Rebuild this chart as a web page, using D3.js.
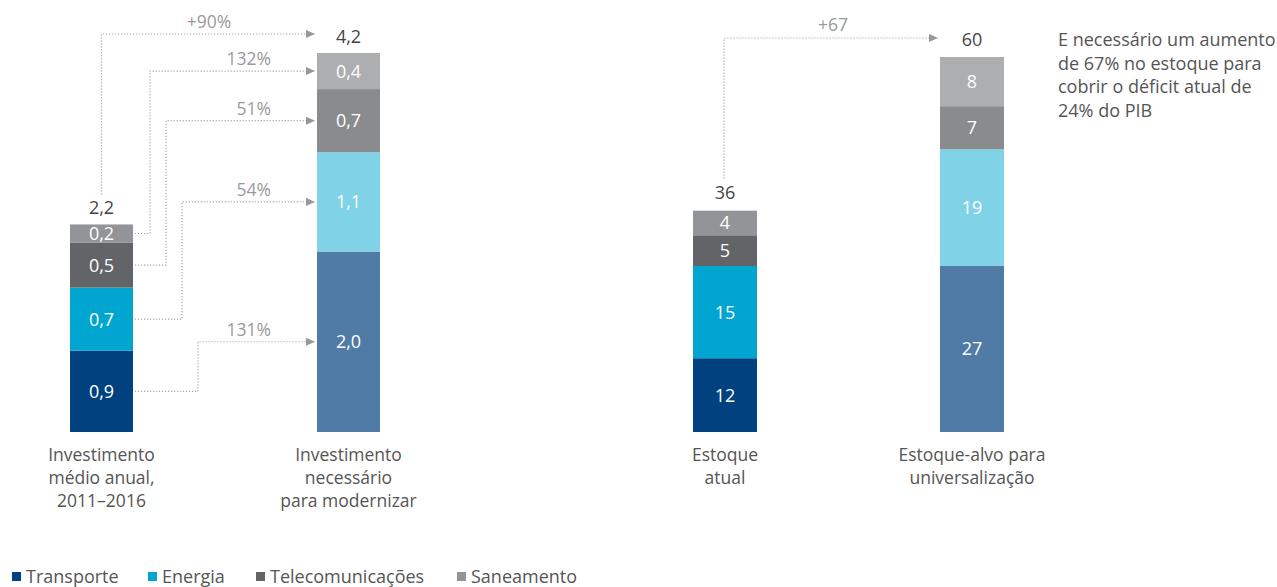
<!DOCTYPE html>
<html>
<head>
<meta charset="utf-8">
<script src="https://cdn.jsdelivr.net/npm/d3@7"></script>
<style>
  html, body { margin: 0; padding: 0; background: #fff; }
  svg { display: block; font-family: "Open Sans", "DejaVu Sans", sans-serif; }
</style>
</head>
<body>
<svg id="chart" width="1277" height="587"></svg>
<script>
// Infrastructure segments (stack order, bottom to top)
const segments = ["Transporte", "Energia", "Telecomunicações", "Saneamento"];

// Investment (% of GDP): average 2011–2016 vs. required to modernize
const investCategories = [
  ["Investimento", "médio anual,", "2011–2016"],
  ["Investimento", "necessário", "para modernizar"]
];
const investAtual = [0.9, 0.7, 0.5, 0.2];
const investNecessario = [2.0, 1.1, 0.7, 0.4];
const investTotals = ["2,2", "4,2"];
const investGrowth = ["131%", "54%", "51%", "132%"];
const investGrowthTotal = "+90%";

// Infrastructure stock (% of GDP): current vs. universalization target
const stockCategories = [
  ["Estoque", "atual"],
  ["Estoque-alvo para", "universalização"]
];
const stockAtual = [12, 15, 5, 4];
const stockAlvo = [27, 19, 7, 8];
const stockTotals = ["36", "60"];
const stockGrowthTotal = "+67";

const noteLines = [
  "E necessário um aumento",
  "de 67% no estoque para",
  "cobrir o déficit atual de",
  "24% do PIB"
];

// Colours: darker shades for current, lighter for target
const darkColors = ["#00427f", "#00a6cf", "#636467", "#939498"];
const lightColors = ["#4f7ba6", "#80d3e7", "#8a8b8d", "#adaeb0"];
const legendColors = ["#00427f", "#00a6cf", "#636467", "#939498"];

const fmt = v => String(v).replace(".", ",");
const fmtDec = v => v.toFixed(1).replace(".", ",");

const svg = d3.select("#chart");

// Arrow marker
svg.append("defs").append("marker")
  .attr("id", "arrow")
  .attr("viewBox", "0 0 10 10")
  .attr("refX", 10).attr("refY", 5)
  .attr("markerWidth", 11).attr("markerHeight", 9)
  .attr("markerUnits", "userSpaceOnUse")
  .attr("orient", "auto")
  .append("path")
  .attr("d", "M0,0.5 L10,5 L0,9.5 Z")
  .attr("fill", "#97989b");

const baseline = 432;

function stackOf(values) {
  let acc = 0;
  return values.map((v, i) => {
    const s = { i, y0: acc, y1: acc + v, v };
    acc += v;
    return s;
  });
}

function drawBar(g, y, center, width, values, colors, format) {
  const st = stackOf(values);
  const bar = g.append("g");
  bar.selectAll("rect")
    .data(st).join("rect")
    .attr("x", center - width / 2)
    .attr("width", width)
    .attr("y", d => y(d.y1))
    .attr("height", d => y(d.y0) - y(d.y1))
    .attr("fill", d => colors[d.i]);
  bar.selectAll("text")
    .data(st).join("text")
    .attr("x", center)
    .attr("y", d => (y(d.y0) + y(d.y1)) / 2)
    .attr("dy", "0.36em")
    .attr("text-anchor", "middle")
    .attr("fill", "#fff")
    .attr("font-size", 18)
    .text(d => format(d.v));
  return st;
}

function drawCategory(g, center, lines) {
  const t = g.append("text")
    .attr("text-anchor", "middle")
    .attr("fill", "#555")
    .attr("font-size", 17.5);
  lines.forEach((ln, k) => {
    t.append("tspan").attr("x", center).attr("y", 461 + k * 23).text(ln);
  });
}

function total(g, cx, cy, label) {
  g.append("text")
    .attr("x", cx).attr("y", cy)
    .attr("text-anchor", "middle")
    .attr("fill", "#444")
    .attr("font-size", 18)
    .text(label);
}

function dotted(g, pts) {
  g.append("path")
    .attr("d", d3.line()(pts))
    .attr("fill", "none")
    .attr("stroke", "#a6a7aa")
    .attr("stroke-width", 1.2)
    .attr("stroke-dasharray", "1.2,1.8")
    .attr("marker-end", "url(#arrow)");
}

function growthLabel(g, x, y, text, anchor) {
  g.append("text")
    .attr("x", x).attr("y", y)
    .attr("text-anchor", anchor)
    .attr("fill", "#999a9d")
    .attr("font-size", 17.5)
    .text(text);
}

// ---------- Investment panel ----------
const gInv = svg.append("g");
const xInv = d3.scalePoint().domain([0, 1]).range([101.5, 348.5]);
const yInv = d3.scaleLinear().domain([0, 4.2]).range([baseline, 53]);
const barWInv = 63;

const stA = drawBar(gInv, yInv, xInv(0), barWInv, investAtual, darkColors, fmtDec);
const stB = drawBar(gInv, yInv, xInv(1), barWInv, investNecessario, lightColors, fmtDec);

const topA = yInv(d3.sum(investAtual));
const topB = yInv(d3.sum(investNecessario));
total(gInv, xInv(0), topA - 10, investTotals[0]);
total(gInv, xInv(1), topB - 10, investTotals[1]);

const rightA = xInv(0) + barWInv / 2 + 2;
const leftB = xInv(1) - barWInv / 2 - 2;

// Per-segment growth connectors
stA.forEach((s, i) => {
  const ya = (yInv(s.y0) + yInv(s.y1)) / 2;
  const sb = stB[i];
  const yb = (yInv(sb.y0) + yInv(sb.y1)) / 2;
  const elbow = 150 + (3 - i) * 16;
  dotted(gInv, [[rightA, ya], [elbow, ya], [elbow, yb], [leftB, yb]]);
  growthLabel(gInv, 271, yb - 6, investGrowth[i], "end");
});

// Total growth connector
const yTotInv = topB - 19;
dotted(gInv, [[xInv(0), topA - 30], [xInv(0), yTotInv], [leftB, yTotInv]]);
growthLabel(gInv, 209, yTotInv - 6, investGrowthTotal, "middle");

investCategories.forEach((c, i) => drawCategory(gInv, xInv(i), c));

// ---------- Stock panel ----------
const gStock = svg.append("g");
const xStock = d3.scalePoint().domain([0, 1]).range([725, 972]);
const yStock = d3.scaleLinear().domain([0, 61]).range([baseline, 57]);
const barWStock = 64;

drawBar(gStock, yStock, xStock(0), barWStock, stockAtual, darkColors, fmt);
drawBar(gStock, yStock, xStock(1), barWStock, stockAlvo, lightColors, fmt);

const topC = yStock(d3.sum(stockAtual));
const topD = yStock(d3.sum(stockAlvo));
total(gStock, xStock(0), topC - 12, stockTotals[0]);
total(gStock, xStock(1), topD - 11, stockTotals[1]);

const yTotStock = topD - 19;
dotted(gStock, [[xStock(0) - 1, topC - 32], [xStock(0) - 1, yTotStock], [xStock(1) - barWStock / 2 - 2, yTotStock]]);
growthLabel(gStock, 833, yTotStock - 7, stockGrowthTotal, "middle");

stockCategories.forEach((c, i) => drawCategory(gStock, xStock(i), c));

// Side note
const note = svg.append("text")
  .attr("fill", "#555")
  .attr("font-size", 18);
noteLines.forEach((ln, k) => {
  note.append("tspan").attr("x", 1058).attr("y", 46 + k * 23.5).text(ln);
});

// ---------- Legend ----------
const legendX = [12, 148, 256, 457];
const legend = svg.append("g");
segments.forEach((name, i) => {
  const item = legend.append("g").attr("transform", `translate(${legendX[i]},0)`);
  item.append("rect")
    .attr("x", 0).attr("y", 572)
    .attr("width", 9).attr("height", 9)
    .attr("fill", legendColors[i]);
  item.append("text")
    .attr("x", 14).attr("y", 583)
    .attr("fill", "#555")
    .attr("font-size", 18)
    .text(name);
});
</script>
</body>
</html>
